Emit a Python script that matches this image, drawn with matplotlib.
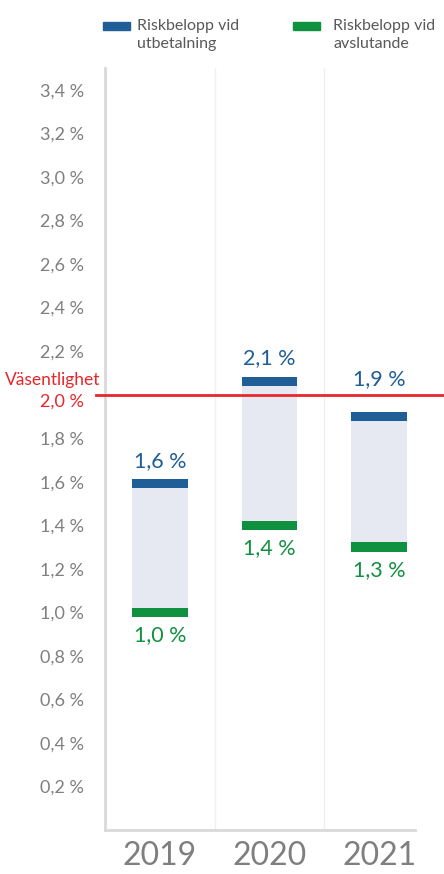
import matplotlib.pyplot as plt
from matplotlib.patches import Rectangle

years = ['2019', '2020', '2021']
upper = [1.59, 2.06, 1.90]   # Riskbelopp vid utbetalning
lower = [1.00, 1.40, 1.30]   # Riskbelopp vid avslutande
threshold = 2.0              # Väsentlighet
yticks = [0.2, 0.4, 0.6, 0.8, 1.0, 1.2, 1.4, 1.6, 1.8, 2.0, 2.2, 2.4, 2.6, 2.8, 3.0, 3.2, 3.4]

BLUE = '#1F5E96'
GREEN = '#10913F'
FILL = '#E6E9F2'
RED = '#E8262B'
GREY = '#7F7F7F'

plt.rcParams['font.family'] = ['Lato', 'DejaVu Sans']


def pct(v):
    return f"{v:.1f} %".replace('.', ',')


fig = plt.figure(figsize=(4.44, 8.74), dpi=100)
ax = fig.add_axes([0.2365, 0.0503, 0.741, 0.8719])

x = list(range(len(years)))
w = 0.51
mh = 0.042  # thickness of the end markers

ax.bar(x, [u - l for u, l in zip(upper, lower)], bottom=lower, width=w, color=FILL, zorder=1)
ax.bar(x, mh, bottom=[u - mh / 2 for u in upper], width=w, color=BLUE, zorder=2)
ax.bar(x, mh, bottom=[l - mh / 2 for l in lower], width=w, color=GREEN, zorder=2)

for i in x:
    # keep the upper label clear of the threshold line
    ytop = upper[i] + 0.06
    if upper[i] < threshold < ytop + 0.12:
        ytop = threshold + 0.025
    ax.text(i, ytop, pct(upper[i]), ha='center', va='bottom', color=BLUE, fontsize=15.5)
    ax.text(i, lower[i] - 0.06, pct(lower[i]), ha='center', va='top', color=GREEN, fontsize=15.5)

# separators between years
for b in [0.5, 1.5]:
    ax.axvline(b, color='#F0F0F0', lw=1, zorder=0)

ax.set_xlim(-0.5, 2.5)
ax.set_ylim(0, 3.5)

ax.plot([-0.585, 2.6], [threshold, threshold], color=RED, lw=2, clip_on=False, zorder=3)
ax.text(-0.015, threshold + 0.03, 'Väsentlighet', transform=ax.get_yaxis_transform(),
        ha='right', va='bottom', color=RED, fontsize=12.5)

ax.set_yticks(yticks)
ax.set_yticklabels(['' if abs(t - threshold) < 1e-9 else pct(t) for t in yticks])
ax.tick_params(axis='y', length=0, pad=15, labelsize=13, labelcolor=GREY)
# threshold value sits just under the red line
ax.text(-0.065, threshold - 0.032, pct(threshold), transform=ax.get_yaxis_transform(),
        ha='right', va='center', color=RED, fontsize=13)

ax.set_xticks(x)
ax.set_xticklabels(years)
ax.tick_params(axis='x', length=0, pad=8, labelsize=23, labelcolor=GREY)

for s in ['top', 'right']:
    ax.spines[s].set_visible(False)
ax.spines['left'].set_color('#D9D9D9')
ax.spines['left'].set_linewidth(2)
ax.spines['bottom'].set_color('#D9D9D9')
ax.spines['bottom'].set_linewidth(2)
ax.spines['bottom'].set_bounds(-0.5, 2.33)

# legend
fig.patches.append(Rectangle((103 / 444, 1 - 30 / 874), 27 / 444, 8 / 874,
                             transform=fig.transFigure, color=BLUE))
fig.text(137 / 444, 1 - 35 / 874, 'Riskbelopp vid\nutbetalning', ha='left', va='center',
         color='#595959', fontsize=11.5, linespacing=1.3)
fig.patches.append(Rectangle((293 / 444, 1 - 30 / 874), 27 / 444, 8 / 874,
                             transform=fig.transFigure, color=GREEN))
fig.text(333 / 444, 1 - 35 / 874, 'Riskbelopp vid\navslutande', ha='left', va='center',
         color='#595959', fontsize=11.5, linespacing=1.3)

fig.savefig('out.png', dpi=100)
